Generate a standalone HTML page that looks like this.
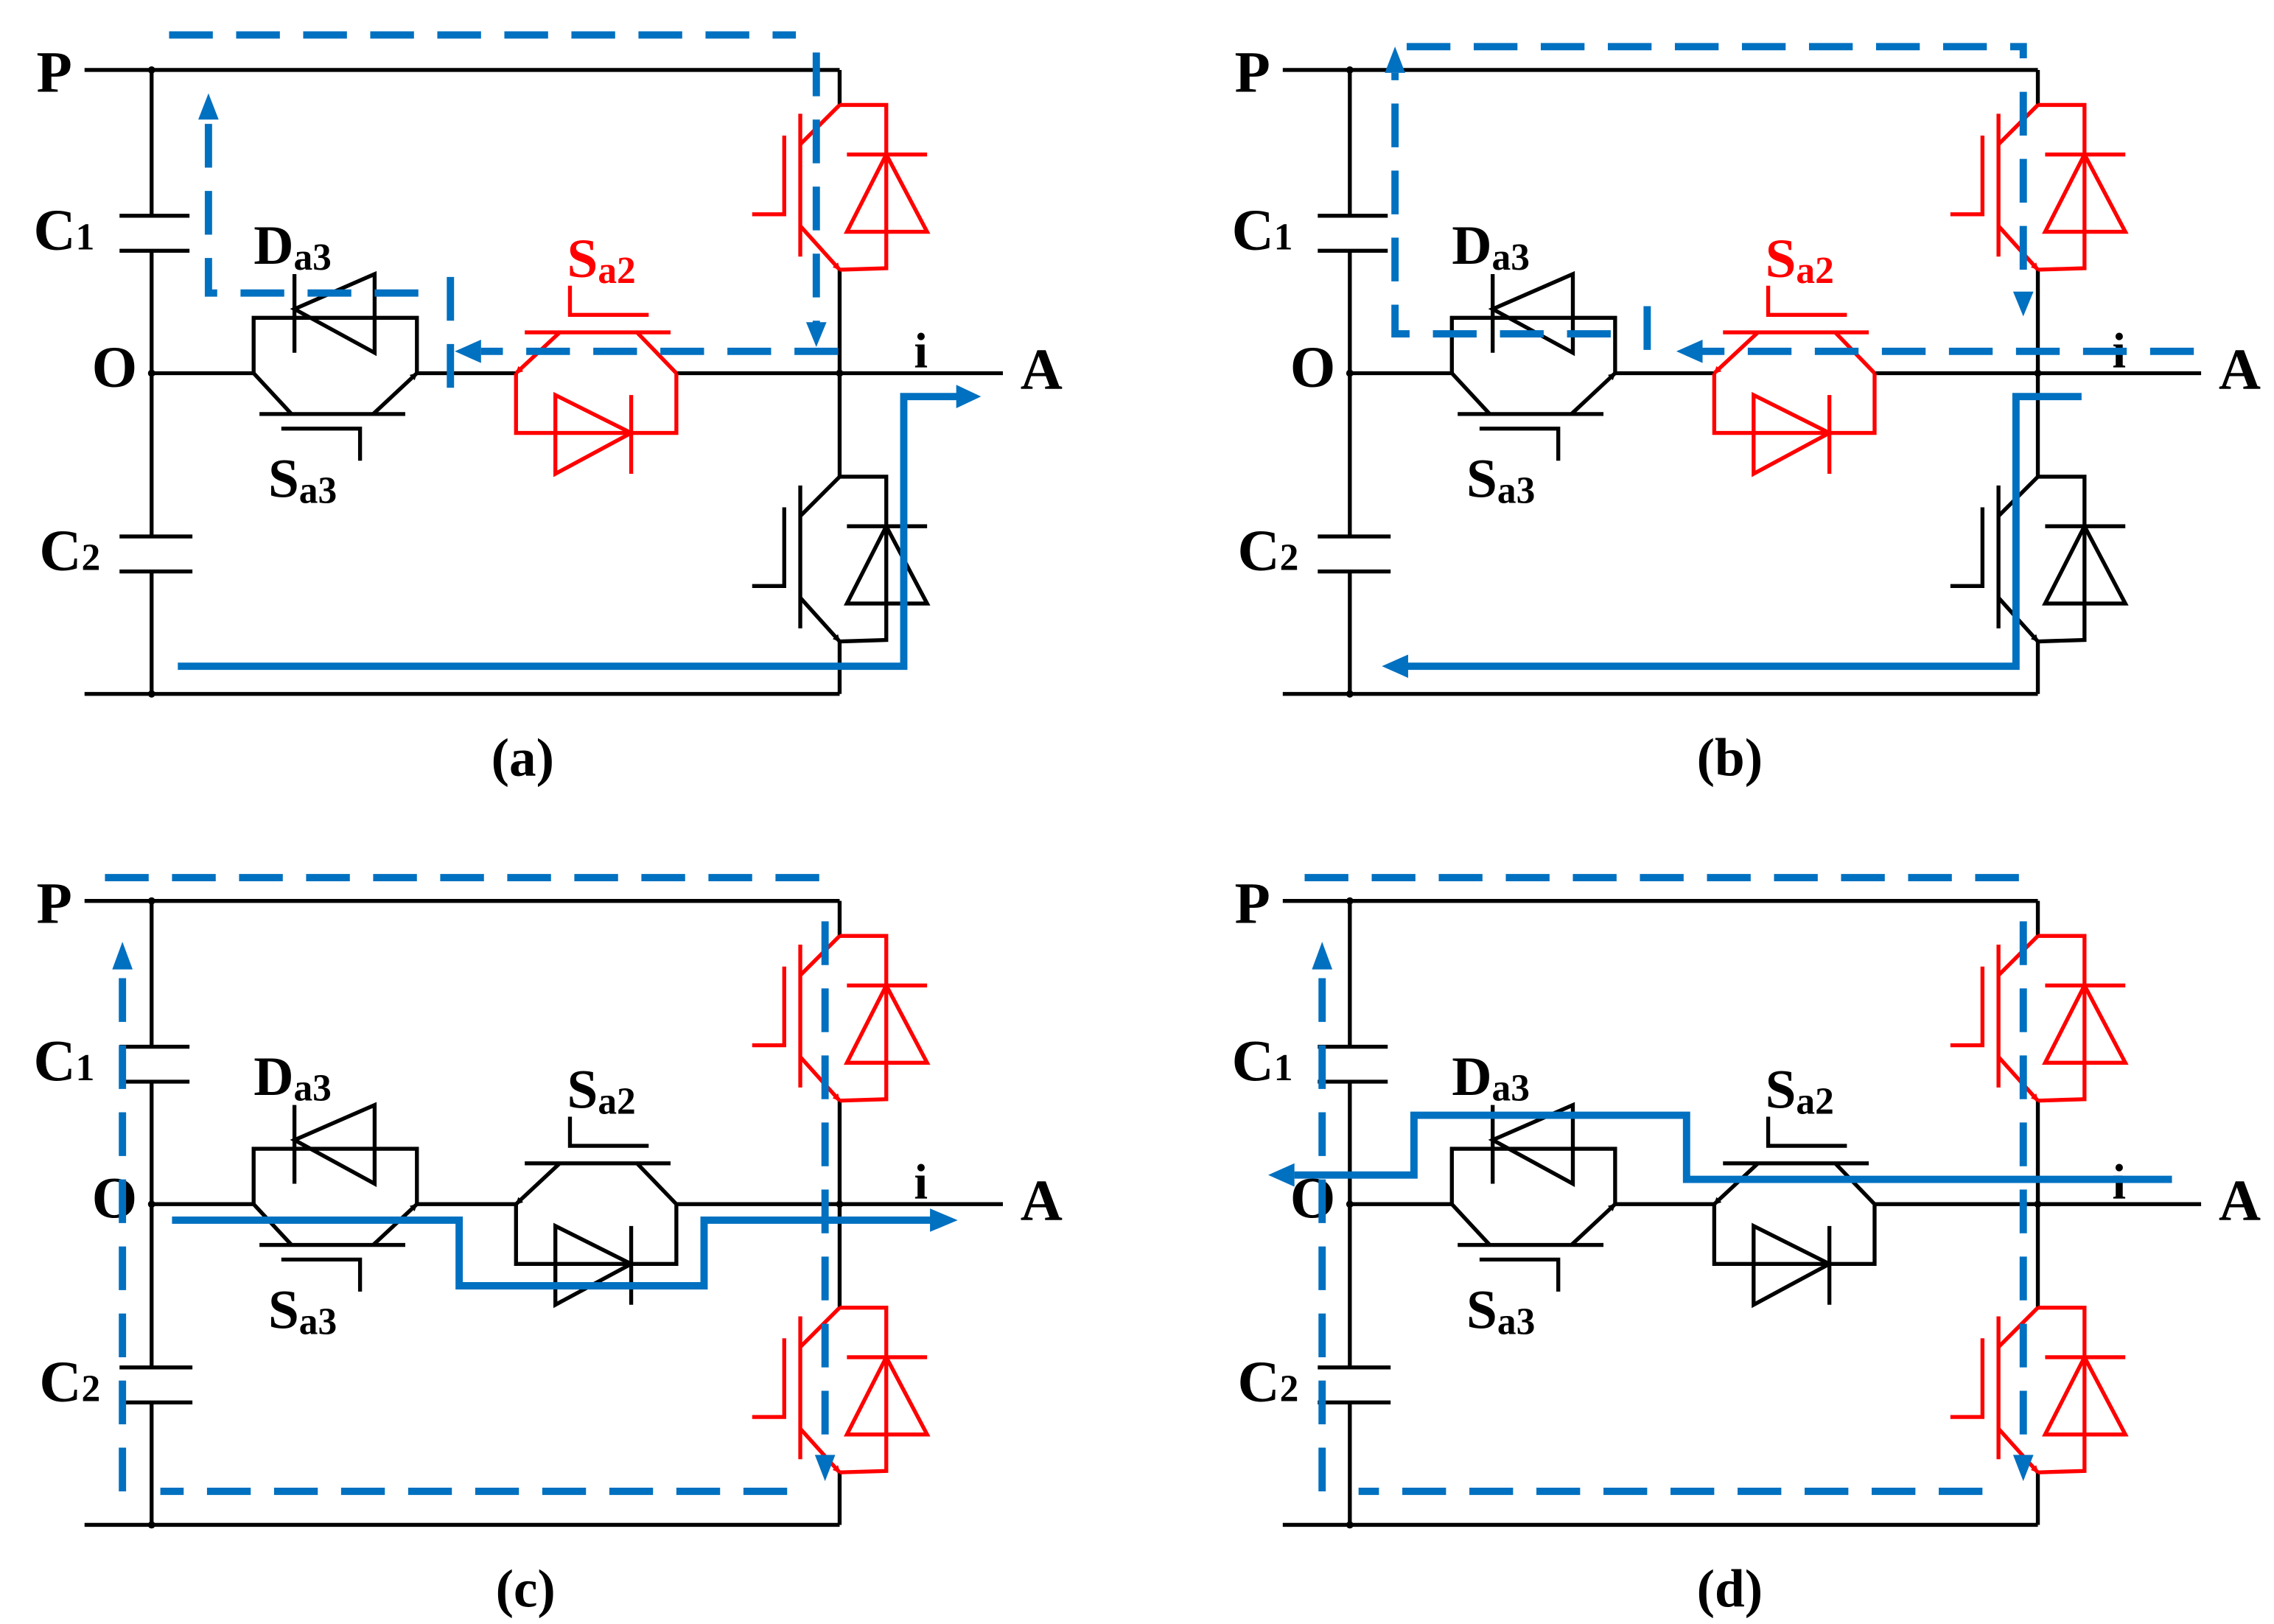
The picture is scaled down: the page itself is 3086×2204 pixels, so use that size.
<!DOCTYPE html>
<html><head><meta charset="utf-8"><style>
html,body{margin:0;padding:0;background:#fff;}
svg{display:block;}
text{font-family:"Liberation Serif",serif;font-weight:bold;}
</style></head><body>
<svg width="3086" height="2204" viewBox="0 0 1560 1114" preserveAspectRatio="none" xmlns="http://www.w3.org/2000/svg">
<defs>
<marker id="ak" viewBox="0 0 10 10" refX="9" refY="5" markerWidth="5" markerHeight="5" orient="auto" markerUnits="userSpaceOnUse"><path d="M0,0L10,5L0,10z" fill="#000"/></marker>
<marker id="ar" viewBox="0 0 10 10" refX="9" refY="5" markerWidth="5" markerHeight="5" orient="auto" markerUnits="userSpaceOnUse"><path d="M0,0L10,5L0,10z" fill="#f00"/></marker>
<g id="igbtR" fill="none" stroke="#f00" stroke-width="2.7">
 <line x1="0" y1="0" x2="-27" y2="27"/>
 <line x1="-27" y1="6" x2="-27" y2="104"/>
 <polyline points="-60,75 -38,75 -38,21"/>
 <line x1="-27" y1="83" x2="0" y2="113" marker-end="url(#ar)"/>
 <polyline points="0,113 32,112 32,0 0,0"/>
 <line x1="5" y1="34" x2="60" y2="34"/>
 <polygon points="5,87 60,87 32,34"/>
</g>
<g id="igbtK" fill="none" stroke="#000" stroke-width="2.7">
 <line x1="0" y1="0" x2="-27" y2="27"/>
 <line x1="-27" y1="6" x2="-27" y2="104"/>
 <polyline points="-60,75 -38,75 -38,21"/>
 <line x1="-27" y1="83" x2="0" y2="113" marker-end="url(#ak)"/>
 <polyline points="0,113 32,112 32,0 0,0"/>
 <line x1="5" y1="34" x2="60" y2="34"/>
 <polygon points="5,87 60,87 32,34"/>
</g>
<g id="sa3" fill="none" stroke="#000" stroke-width="2.7">
 <polyline points="0,0 0,-38 112,-38 112,0"/>
 <line x1="0" y1="0" x2="26" y2="28"/>
 <line x1="82" y1="28" x2="112" y2="0" marker-end="url(#ak)"/>
 <line x1="4" y1="28" x2="104" y2="28"/>
 <polyline points="19,38 73,38 73,60"/>
 <line x1="28" y1="-68" x2="28" y2="-14"/>
 <polygon points="28,-44 83,-68 83,-14"/>
</g>
<g id="sa2R" fill="none" stroke="#f00" stroke-width="2.7">
 <line x1="30" y1="-28" x2="0" y2="0" marker-end="url(#ar)"/>
 <line x1="83" y1="-28" x2="110" y2="0"/>
 <line x1="6" y1="-28" x2="106" y2="-28"/>
 <polyline points="37,-60 37,-40 91,-40"/>
 <polyline points="0,0 0,41 110,41 110,0"/>
 <polygon points="27,15 27,69 79,41"/>
 <line x1="79" y1="15" x2="79" y2="69"/>
</g>
<g id="sa2K" fill="none" stroke="#000" stroke-width="2.7">
 <line x1="30" y1="-28" x2="0" y2="0" marker-end="url(#ak)"/>
 <line x1="83" y1="-28" x2="110" y2="0"/>
 <line x1="6" y1="-28" x2="106" y2="-28"/>
 <polyline points="37,-60 37,-40 91,-40"/>
 <polyline points="0,0 0,41 110,41 110,0"/>
 <polygon points="27,15 27,69 79,41"/>
 <line x1="79" y1="15" x2="79" y2="69"/>
</g>
<g id="base">
 <g fill="none" stroke="#000" stroke-width="2.7">
  <line x1="58" y1="48" x2="576" y2="48"/>
  <line x1="58" y1="476" x2="576" y2="476"/>
  <line x1="104" y1="48" x2="104" y2="148"/>
  <line x1="104" y1="172" x2="104" y2="368"/>
  <line x1="104" y1="392" x2="104" y2="476"/>
  <line x1="82" y1="148" x2="130" y2="148"/>
  <line x1="82" y1="172" x2="130" y2="172"/>
  <line x1="82" y1="368" x2="132" y2="368"/>
  <line x1="82" y1="392" x2="132" y2="392"/>
  <line x1="104" y1="256" x2="174" y2="256"/>
  <line x1="286" y1="256" x2="354" y2="256"/>
  <line x1="464" y1="256" x2="688" y2="256"/>
  <line x1="576" y1="48" x2="576" y2="72"/>
  <line x1="576" y1="185" x2="576" y2="327"/>
  <line x1="576" y1="440" x2="576" y2="476"/>
 </g>
 <circle cx="104" cy="48" r="2.5"/><circle cx="104" cy="256" r="2.5"/><circle cx="104" cy="476" r="2.5"/><circle cx="576" cy="256" r="2.5"/>
 <use href="#sa3" x="174" y="256"/>
 <text x="25" y="63" font-size="40">P</text>
 <text x="23" y="171" font-size="40">C<tspan font-size="26" dy="0">1</tspan></text>
 <text x="27" y="391" font-size="40">C<tspan font-size="26" dy="0">2</tspan></text>
 <text x="63" y="265" font-size="40">O</text>
 <text x="174" y="181" font-size="38">D<tspan font-size="26" dy="4">a3</tspan></text>
 <text x="184" y="341" font-size="38">S<tspan font-size="26" dy="4">a3</tspan></text>
 <text x="627" y="252" font-size="34">i</text>
 <text x="700" y="267" font-size="40">A</text>
</g>
</defs>

<!-- (a) -->
<g>
 <use href="#base"/>
 <use href="#sa2R" x="354" y="256"/>
 <text x="389" y="190" font-size="38" fill="#f00">S<tspan font-size="26" dy="4">a2</tspan></text>
 <use href="#igbtR" x="576" y="72"/>
 <use href="#igbtK" x="576" y="327"/>
 <g fill="none" stroke="#0070c0" stroke-width="5">
  <polyline stroke-dasharray="30,16" points="116,24 546,24"/>
  <polyline stroke-dasharray="30,16" points="560,36 560,228"/>
  <polyline stroke-dasharray="30,16" points="575,241 330,241"/>
  <polyline stroke-dasharray="30,16" points="309,190 309,282"/>
  <polyline stroke-dasharray="30,16" points="287,201 143,201 143,82"/>
  <polyline points="122,457 620,457 620,272 660,272"/>
 </g>
 <g fill="#0070c0">
  <path d="M136,82 L150,82 L143,64z"/>
  <path d="M553,221 L567,221 L560,238z"/>
  <path d="M330,233 L330,249 L312,241z"/>
  <path d="M656,264 L656,280 L673,272z"/>
 </g>
 <text x="337" y="532" font-size="37" font-weight="normal">(<tspan font-weight="bold">a</tspan>)</text>
</g>

<!-- (b) -->
<g transform="translate(822,0)">
 <use href="#base"/>
 <use href="#sa2R" x="354" y="256"/>
 <text x="389" y="190" font-size="38" fill="#f00">S<tspan font-size="26" dy="4">a2</tspan></text>
 <use href="#igbtR" x="576" y="72"/>
 <use href="#igbtK" x="576" y="327"/>
 <g fill="none" stroke="#0070c0" stroke-width="5">
  <polyline stroke-dasharray="30,16" points="143,32 566,32 566,40"/>
  <polyline stroke-dasharray="30,16" points="566,63 566,200"/>
  <polyline stroke-dasharray="30,16" points="683,241 345,241"/>
  <polyline stroke-dasharray="30,16" points="308,210 308,250"/>
  <polyline stroke-dasharray="30,16" points="283,229 135,229 135,50"/>
  <polyline points="606,272 561,272 561,457 142,457"/>
 </g>
 <g fill="#0070c0">
  <path d="M128,50 L142,50 L135,32z"/>
  <path d="M559,200 L573,200 L566,217z"/>
  <path d="M346,233 L346,249 L328,241z"/>
  <path d="M144,449 L144,465 L126,457z"/>
 </g>
 <text x="342" y="532" font-size="37" font-weight="normal">(b)</text>
</g>

<!-- (c) -->
<g transform="translate(0,570)">
 <use href="#base"/>
 <use href="#sa2K" x="354" y="256"/>
 <text x="389" y="190" font-size="38">S<tspan font-size="26" dy="4">a2</tspan></text>
 <use href="#igbtR" x="576" y="72"/>
 <use href="#igbtR" x="576" y="327"/>
 <g fill="none" stroke="#0070c0" stroke-width="5">
  <polyline stroke-dasharray="30,16" points="72,32 566,32 566,40"/>
  <polyline stroke-dasharray="30,16" points="566,62 566,425"/>
  <polyline stroke-dasharray="30,16" points="540,453 110,453"/>
  <polyline stroke-dasharray="30,16" points="84,453 84,95"/>
  <polyline points="118,267 315,267 315,312 483,312 483,267 640,267"/>
 </g>
 <g fill="#0070c0">
  <path d="M77,95 L91,95 L84,76z"/>
  <path d="M559,428 L573,428 L566,446z"/>
  <path d="M638,259 L638,275 L657,267z"/>
 </g>
 <text x="340" y="532" font-size="37" font-weight="normal">(c)</text>
</g>

<!-- (d) -->
<g transform="translate(822,570)">
 <use href="#base"/>
 <use href="#sa2K" x="354" y="256"/>
 <text x="389" y="190" font-size="38">S<tspan font-size="26" dy="4">a2</tspan></text>
 <use href="#igbtR" x="576" y="72"/>
 <use href="#igbtR" x="576" y="327"/>
 <g fill="none" stroke="#0070c0" stroke-width="5">
  <polyline stroke-dasharray="30,16" points="73,32 566,32 566,40"/>
  <polyline stroke-dasharray="30,16" points="566,62 566,425"/>
  <polyline stroke-dasharray="30,16" points="538,453 110,453"/>
  <polyline stroke-dasharray="30,16" points="85,453 85,95"/>
  <polyline points="668,239 335,239 335,195 148,195 148,236 66,236"/>
 </g>
 <g fill="#0070c0">
  <path d="M78,95 L92,95 L85,76z"/>
  <path d="M559,428 L573,428 L566,446z"/>
  <path d="M66,228 L66,244 L48,236z"/>
 </g>
 <text x="342" y="532" font-size="37" font-weight="normal">(d)</text>
</g>
</svg>
</body></html>
